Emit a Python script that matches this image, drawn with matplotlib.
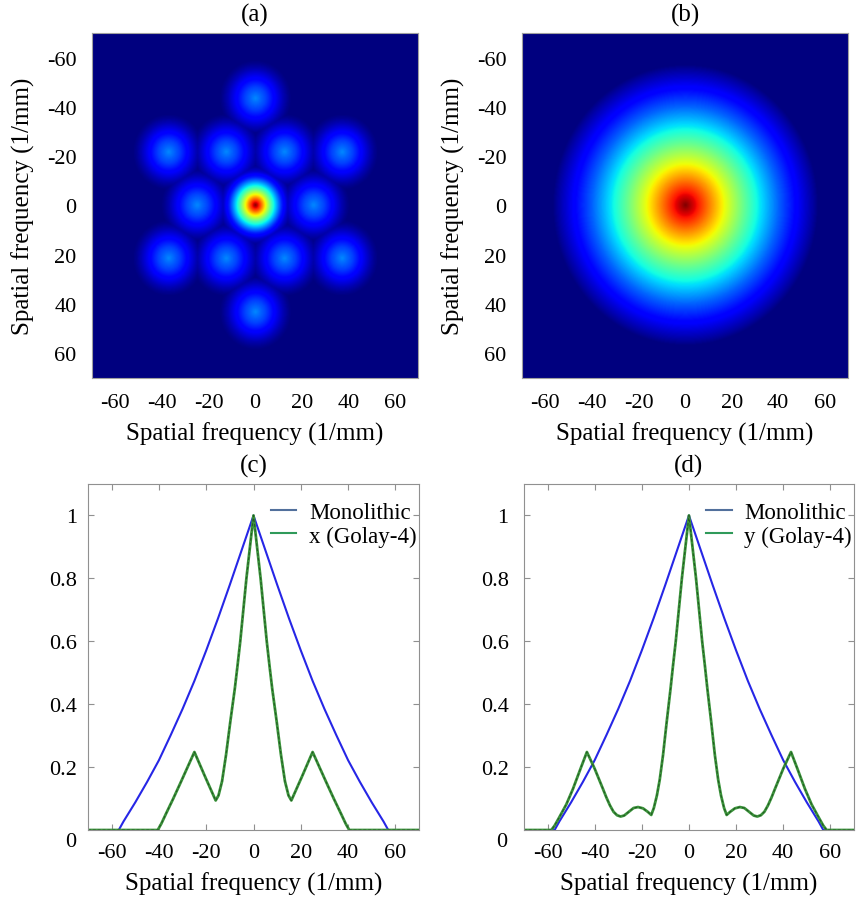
import numpy as np
import matplotlib.pyplot as plt
from matplotlib.lines import Line2D

plt.rcParams['font.family'] = ['Liberation Serif', 'DejaVu Serif']
plt.rcParams['axes.unicode_minus'] = False

# MTF cuts (c) and (d), right half only (curves are symmetric)
mono_f = [0, 5, 10, 15, 20, 25, 30, 35, 40, 45, 50, 55, 57, 70]
mono_mtf = [1.0, 0.89, 0.78, 0.673, 0.571, 0.474, 0.385, 0.302, 0.222, 0.153, 0.088, 0.027, 0.0, 0.0]

golay_x_f = [0, 1.5, 3, 4.3, 5.6, 6.8, 7.9, 9.8, 11.6, 13.3, 14.8, 16.0, 20.5, 25.0,
             28, 31, 34, 37, 39, 40.5, 70]
golay_x_mtf = [1.0, 0.9, 0.8, 0.7, 0.6, 0.52, 0.45, 0.345, 0.24, 0.155, 0.11, 0.094, 0.17, 0.248,
               0.198, 0.148, 0.099, 0.052, 0.02, 0.0, 0.0]

golay_y_f = [0, 1.5, 3, 4.3, 5.6, 6.8, 7.8, 9.5, 11.0, 12.4, 13.6, 14.9, 16.0, 17.5, 19.5,
             21.6, 23.5, 25.5, 27.5, 29.0, 30.5, 32.0, 33.5, 35.0, 36.5, 40.0, 43.3, 46.0,
             49.2, 52.0, 54.9, 57.0, 58.4, 70]
golay_y_mtf = [1.0, 0.9, 0.8, 0.7, 0.6, 0.52, 0.45, 0.34, 0.238, 0.16, 0.11, 0.07, 0.048, 0.058, 0.069,
               0.073, 0.07, 0.058, 0.046, 0.043, 0.047, 0.058, 0.078, 0.103, 0.131, 0.195, 0.248, 0.195,
               0.131, 0.082, 0.042, 0.014, 0.0, 0.0]

# 2D Golay-4 MTF (panel a): central peak + 12 sidelobes, radial profiles
peak_r = [0, 2.5, 4.8, 6.7, 8.3, 9.9, 11.3, 12.6, 13.6, 15.3, 17]
peak_v = [1.0, 0.8, 0.6, 0.45, 0.345, 0.24, 0.155, 0.11, 0.07, 0.03, 0.0]
lobe_x = [25, 12.5, -12.5, -25, -12.5, 12.5, 37.2, 0, -37.2, -37.2, 0, 37.2]
lobe_y = [0, -21.6, -21.6, 0, 21.6, 21.6, -21.5, -43.3, -21.5, 21.5, 43.3, 21.5]
lobe_r = [0, 2.5, 4.5, 7.4, 9, 11.9, 14, 15.5]
lobe_v = [0.26, 0.22, 0.19, 0.132, 0.10, 0.046, 0.015, 0.0]

ticks = [-60, -40, -20, 0, 20, 40, 60]
xlab = 'Spatial frequency (1/mm)'


def mirror(f, v):
    f = np.asarray(f, float)
    v = np.asarray(v, float)
    return np.concatenate([-f[::-1], f[1:]]), np.concatenate([v[::-1], v[1:]])


# images
g = np.linspace(-70, 70, 500)
X, Y = np.meshgrid(g, g)
R = np.hypot(X, Y)
img_a = np.interp(R, peak_r, peak_v, right=0)
for lx, ly in zip(lobe_x, lobe_y):
    d = np.hypot(X - lx, Y - ly)
    img_a = np.maximum(img_a, np.interp(d, lobe_r, lobe_v, right=0))
img_b = np.interp(R, mono_f, mono_mtf, right=0)

fig = plt.figure(figsize=(8.56, 9.03), dpi=100)
ax_a = fig.add_axes([0.1075, 0.5803, 0.381, 0.3821])
ax_b = fig.add_axes([0.6098, 0.5803, 0.381, 0.3821])
ax_c = fig.add_axes([0.1028, 0.0797, 0.3867, 0.3832])
ax_d = fig.add_axes([0.6121, 0.0797, 0.3855, 0.3832])

for ax, img, tag in [(ax_a, img_a, '(a)'), (ax_b, img_b, '(b)')]:
    ax.imshow(img, cmap='jet', vmin=0, vmax=1, extent=[-70, 70, 70, -70],
              aspect='auto', interpolation='bilinear')
    ax.set_xticks(ticks)
    ax.set_yticks(ticks)
    ax.tick_params(length=0, labelsize=16, pad=11)
    ax.set_xlabel(xlab, fontsize=18, labelpad=7)
    ax.set_ylabel(xlab, fontsize=18, labelpad=9)
    ax.set_title(tag, fontsize=18, pad=9)
    for s in ax.spines.values():
        s.set_color('#a0a0a0')

curves = [(ax_c, '(c)', golay_x_f, golay_x_mtf, 'x (Golay-4)', 8),
          (ax_d, '(d)', golay_y_f, golay_y_mtf, 'y (Golay-4)', 11)]
for ax, tag, gf, gv, name, ypad in curves:
    mf, mv = mirror(mono_f, mono_mtf)
    ax.plot(mf, mv, color='#2626e6', lw=1.5)
    xf, xv = mirror(gf, gv)
    ax.plot(xf, xv, color='#3a943a', lw=2.0)
    ax.plot(xf, xv, color='#1a3a1a', lw=0.7, ls=(0, (3, 2)), alpha=0.7)
    ax.set_xlim(-70, 70)
    ax.set_ylim(0, 1.1)
    ax.set_xticks(ticks)
    ax.set_yticks([0.2, 0.4, 0.6, 0.8, 1])
    ax.set_yticklabels(['0.2', '0.4', '0.6', '0.8', '1'])
    ax.tick_params(direction='in', top=True, right=True, length=4, color='#909090',
                   labelsize=16)
    ax.tick_params(axis='x', pad=9)
    ax.tick_params(axis='y', pad=ypad)
    ax.annotate('0', xy=(0, 0), xycoords=('axes fraction', 'data'),
                xytext=(-ypad * 100 / 72 - 1, -11), textcoords='offset pixels',
                ha='right', va='center', fontsize=16)
    ax.set_xlabel(xlab, fontsize=18, labelpad=7)
    ax.set_title(tag, fontsize=18, pad=9)
    for s in ax.spines.values():
        s.set_color('#909090')
    handles = [Line2D([], [], color='#52709c', lw=1.5),
               Line2D([], [], color='#2f9a5a', lw=1.5)]
    ax.legend(handles, ['Monolithic', name], loc='upper left', bbox_to_anchor=(0.553, 0.948),
              frameon=False, fontsize=16.5, borderpad=0, borderaxespad=0,
              handlelength=1.1, handletextpad=0.55, labelspacing=0.1)

fig.savefig('out.png', dpi=100)
